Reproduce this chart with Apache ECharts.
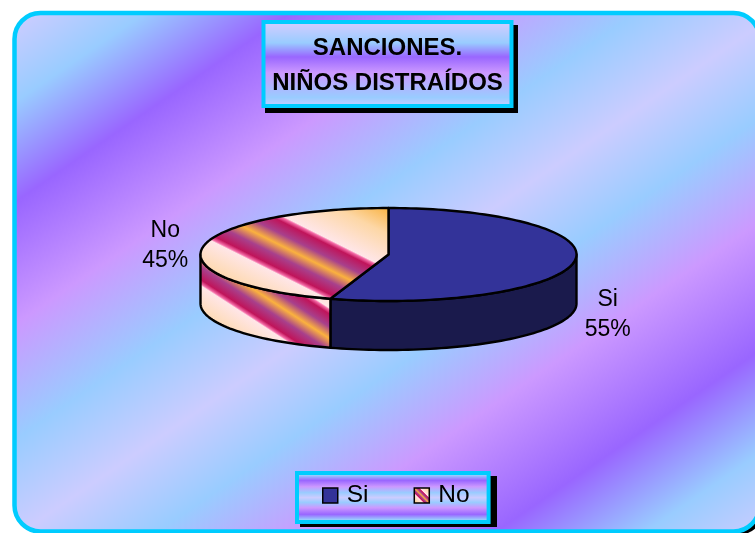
<!DOCTYPE html>
<html>
<head>
<meta charset="utf-8">
<style>html,body{margin:0;padding:0;background:#fff}#c{width:755px;height:533px}</style>
<script src="https://cdn.jsdelivr.net/npm/echarts@6/dist/echarts.min.js"></script>
</head>
<body>
<div id="c"></div>
<script>
const categories = ['Si', 'No'];
const values = [55, 45];
const titleLines = ['SANCIONES.', 'NIÑOS DISTRAÍDOS'];

const FONT = '"Liberation Sans", Arial, sans-serif';
const total = values.reduce((a, b) => a + b, 0);
const C = {x: 388.5, y: 254.5, rx: 188, ry: 46.5, depth: 49, lrx: 224, lry: 70, ldx: -2};

const L = '#CCCCFF', B = '#99CCFF', P = '#9966FF', K = '#CC99FF';
const bgStops = [[0, L], [.08, B], [.177, P], [.296, K], [.408, B], [.502, L], [.592, B], [.693, K], [.818, P], [.918, B], [1, L]]
  .map(s => ({offset: s[0], color: s[1]}));
const titleStops = [[0, L], [.06, L], [.26, B], [.42, P], [.6, K], [.88, B], [1, L]]
  .map(s => ({offset: s[0], color: s[1]}));

const fireStops = [[0, '#F9B548'], [.14, '#FDD7A6'], [.332, '#FFE6E8'], [.342, '#F46CA8'], [.365, '#C0145A'], [.435, '#A8408C'], [.5, '#FBB23E'],
  [.565, '#A8408C'], [.635, '#C0145A'], [.658, '#F46CA8'], [.668, '#FFE6E8'], [.86, '#FDD7A6'], [1, '#F9B548']]
  .map(s => ({offset: s[0], color: s[1]}));
const fire = (p0, p1) => ({type: 'linear', global: true, x: p0[0], y: p0[1], x2: p1[0], y2: p1[1], colorStops: fireStops});

const topFill = [{color: '#333399'}, {color: fire([0, 15], [-72, 159])}];
const sideFill = [{color: '#1A1A4C'}, {color: fire([0, 34], [-83, 162])}];

function pt(a, dz) {
  return [C.x + C.rx * Math.sin(a), C.y - C.ry * Math.cos(a) + (dz || 0)];
}
function arc(a0, a1, dz) {
  const out = [], n = Math.max(2, Math.ceil(Math.abs(a1 - a0) / 0.03));
  for (let i = 0; i <= n; i++) out.push(pt(a0 + (a1 - a0) * i / n, dz));
  return out;
}

function renderSlice(params, api) {
  const i = params.seriesIndex;
  const before = values.slice(0, i).reduce((a, b) => a + b, 0);
  const a0 = before / total * 2 * Math.PI;
  const v = api.value(0);
  const a1 = a0 + v / total * 2 * Math.PI;
  const children = [];
  const stroke = {stroke: '#000', lineWidth: 2.4, lineJoin: 'round'};

  const f0 = Math.max(a0, Math.PI / 2), f1 = Math.min(a1, 3 * Math.PI / 2);
  if (f1 > f0) {
    const up = arc(f0, f1, 0), down = arc(f1, f0, C.depth);
    children.push({type: 'polygon', shape: {points: up.concat(down)},
      style: Object.assign({fill: sideFill[i].color}, stroke)});
  }
  const topPts = arc(a0, a1, 0);
  topPts.push([C.x, C.y]);
  children.push({type: 'polygon', shape: {points: topPts},
    style: Object.assign({fill: topFill[i].color}, stroke)});

  const mid = (a0 + a1) / 2, c = Math.cos(mid);
  children.push({type: 'text', style: {
    x: C.x + C.ldx + C.lrx * Math.sin(mid),
    y: C.y + 2 - C.lry * c + (c < 0 ? C.depth - 2 : 0),
    text: categories[i] + '\n' + Math.round(v / total * 100) + '%',
    align: 'center', verticalAlign: 'middle',
    font: '23px ' + FONT, lineHeight: 30, fill: '#000'
  }});
  return {type: 'group', children};
}

const option = {
  animation: false,
  backgroundColor: '#fff',
  graphic: [
    {type: 'rect', z: -3, silent: true, shape: {x: 19, y: 17, width: 745, height: 518, r: 26}, style: {fill: '#000'}},
    {type: 'rect', z: -2, silent: true, shape: {x: 14.5, y: 13, width: 745, height: 518.5, r: 26},
      style: {stroke: '#00CCFF', lineWidth: 4.5,
        fill: {type: 'linear', global: true, x: 0, y: 30, x2: 480.7, y2: 729.7, colorStops: bgStops}}},
    {type: 'rect', z: -1, silent: true, shape: {x: 265, y: 25, width: 253, height: 88}, style: {fill: '#000'}},
    {type: 'rect', z: -1, silent: true, shape: {x: 300, y: 476, width: 197, height: 51}, style: {fill: '#000'}}
  ],
  title: {
    text: titleLines.join('\n'),
    left: 378.5, top: 22, textAlign: 'center',
    padding: [9, 9, 5, 9],
    textStyle: {fontFamily: FONT, fontWeight: 'bold', fontSize: 24, lineHeight: 35, color: '#000'},
    backgroundColor: {type: 'linear', x: 0, y: 0, x2: 0, y2: 1, colorStops: titleStops},
    borderColor: '#00CCFF', borderWidth: 4
  },
  legend: {
    left: 297, top: 473,
    orient: 'horizontal',
    padding: [10, 19, 14, 25],
    itemGap: 45, itemWidth: 15, itemHeight: 15,
    icon: 'rect',
    data: [
      {name: categories[0], itemStyle: {color: '#333399', borderColor: '#000', borderWidth: 1.5}},
      {name: categories[1], itemStyle: {color: {type: 'linear', x: 1, y: 0, x2: 0, y2: 1, colorStops: fireStops}, borderColor: '#000', borderWidth: 1.5}}
    ],
    textStyle: {fontFamily: FONT, fontSize: 24.5, color: '#000', padding: [0, 0, 0, 4]},
    backgroundColor: {type: 'linear', x: 0, y: 0, x2: 0, y2: 1, colorStops: bgStops},
    borderColor: '#00CCFF', borderWidth: 4
  },
  series: categories.map((name, i) => ({
    type: 'custom', name, coordinateSystem: 'none', silent: true,
    renderItem: renderSlice,
    itemStyle: {color: topFill[i].color},
    data: [[values[i]]]
  }))
};
echarts.init(document.getElementById('c'), null, {renderer: 'canvas'}).setOption(option);
</script>
</body>
</html>
